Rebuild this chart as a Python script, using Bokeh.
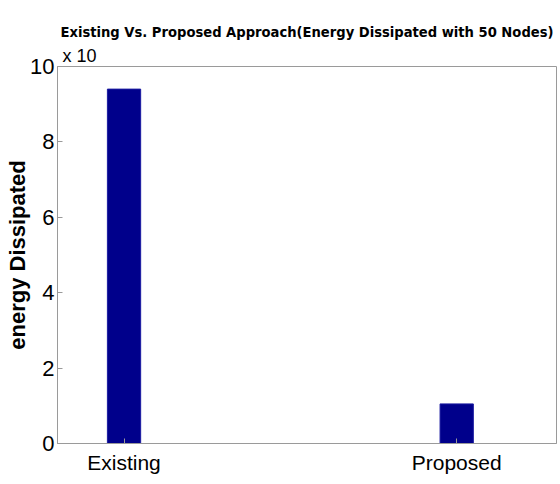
from bokeh.plotting import figure
from bokeh.models import ColumnDataSource, FixedTicker, Range1d, Title
from bokeh.embed import file_html
from bokeh.resources import INLINE

# Energy dissipated (x 10^k units) for each approach
approaches = ["Existing", "Proposed"]
positions = [1, 2]
energy = [9.4, 1.05]
y_ticks = [0, 2, 4, 6, 8, 10]

src = ColumnDataSource(dict(x=positions, top=energy, name=approaches))

p = figure(width=560, height=484, output_backend="svg", toolbar_location=None,
           x_range=Range1d(0.8, 2.3), y_range=Range1d(0, 10),
           min_border_left=57, min_border_right=4, min_border_bottom=41, min_border_top=66)

p.vbar(x="x", top="top", width=0.1, source=src, fill_color="#00008b", line_color="#1a1aa0")

grey = "#9a9a9a"
label_font = "Liberation Sans"

p.xaxis.ticker = FixedTicker(ticks=positions)
p.xaxis.major_label_overrides = {1: "Existing", 2: "Proposed"}
p.yaxis.ticker = FixedTicker(ticks=y_ticks)
for ax in (p.xaxis[0], p.yaxis[0]):
    ax.axis_line_color = grey
    ax.major_tick_line_color = grey
    ax.major_tick_in = 5
    ax.major_tick_out = 0
    ax.minor_tick_line_color = None
    ax.major_label_text_font = label_font
    ax.major_label_text_color = "black"
p.xaxis.major_label_text_font_size = "21px"
p.yaxis.major_label_text_font_size = "22px"
p.xaxis.major_label_standoff = 7
p.yaxis.major_label_standoff = 3

p.yaxis.axis_label = "energy Dissipated"
p.yaxis.axis_label_text_font = "Liberation Sans"
p.yaxis.axis_label_text_font_style = "bold"
p.yaxis.axis_label_text_font_size = "22px"
p.yaxis.axis_label_text_color = "black"
p.yaxis.axis_label_standoff = -3

p.xgrid.visible = False
p.ygrid.visible = False
p.outline_line_color = grey
p.background_fill_color = "white"
p.border_fill_color = "white"

# scale marker above the y axis
p.add_layout(Title(text="x 10", align="left", offset=5, text_font=label_font,
                   text_font_size="18px", text_font_style="normal",
                   text_color="black", standoff=2), "above")

# chart title in a condensed face
p.add_layout(Title(text="Existing Vs. Proposed Approach(Energy Dissipated with 50 Nodes)",
                   align="center", text_font="DejaVu Sans Condensed",
                   text_font_style="bold", text_font_size="14.6px",
                   text_color="black", standoff=6), "above")

open("out.html", "w").write(file_html(p, INLINE))
